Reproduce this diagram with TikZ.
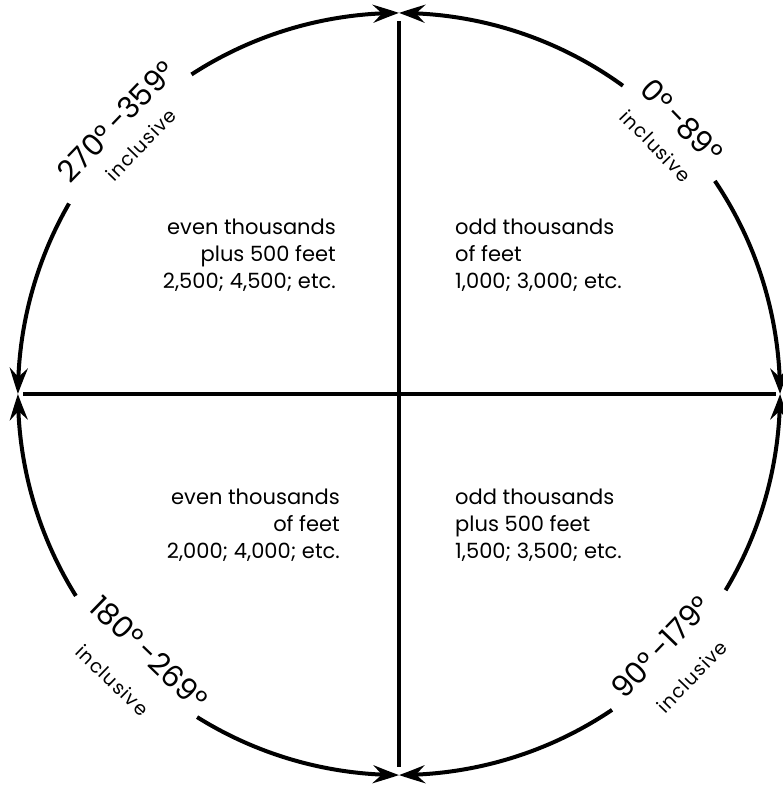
\documentclass[tikz,border=0pt]{standalone}
\usepackage{fontspec}
\setmainfont{Poppins}
\usetikzlibrary{arrows.meta,bending}
\begin{document}
\begin{tikzpicture}[x=1pt,y=1pt,
  rim/.style={line width=4pt},
  axisline/.style={line width=3.5pt},
  tipend/.style={-{Stealth[length=26pt,width=18pt,inset=9pt,bend]}},
  quad/.style={font=\fontsize{21}{27}\selectfont,inner sep=0pt},
  deg/.style={font=\fontsize{30}{32}\selectfont,inner sep=0pt},
  incl/.style={font=\fontsize{19}{20}\selectfont\addfontfeatures{LetterSpace=6},inner sep=0pt}]
\useasboundingbox (0,0) rectangle (783,787);
\def\R{381}
\coordinate (C) at (399,393);
\coordinate (N) at (399,774);
\coordinate (S) at (399,12);
\coordinate (E) at (780,393);
\coordinate (W) at (18,393);
% axes
\draw[axisline,shorten <=8pt,shorten >=8pt] (N) -- (S);
\draw[axisline,shorten <=5pt,shorten >=4pt] (W) -- (E);
% rim arcs
\draw[rim,tipend] ([shift={(54:\R)}]C) arc[start angle=54,end angle=90,radius=\R];
\draw[rim,tipend] ([shift={(34:\R)}]C) arc[start angle=34,end angle=0,radius=\R];
\draw[rim,tipend] ([shift={(123:\R)}]C) arc[start angle=123,end angle=90,radius=\R];
\draw[rim,tipend] ([shift={(150:\R)}]C) arc[start angle=150,end angle=180,radius=\R];
\draw[rim,tipend] ([shift={(212:\R)}]C) arc[start angle=212,end angle=180,radius=\R];
\draw[rim,tipend] ([shift={(238:\R)}]C) arc[start angle=238,end angle=270,radius=\R];
\draw[rim,tipend] ([shift={(304:\R)}]C) arc[start angle=304,end angle=270,radius=\R];
\draw[rim,tipend] ([shift={(329:\R)}]C) arc[start angle=329,end angle=360,radius=\R];
% angle labels
\node[deg,rotate=-46] (d1) at ([shift={(44:393)}]C) {0°\,-89°};
\node[incl,rotate=-46] (i1) at ([shift={(44:357)}]C) {inclusive};
\node[deg,rotate=46] (d2) at ([shift={(136:393)}]C) {270°\,-359°};
\node[incl,rotate=46] (i2) at ([shift={(136:359)}]C) {inclusive};
\node[deg,rotate=-44] (d3) at ([shift={(226:360)}]C) {180°\,-269°};
\node[incl,rotate=-44] (i3) at ([shift={(225:405)}]C) {inclusive};
\node[deg,rotate=46] (d4) at ([shift={(316:364)}]C) {90°\,-179°};
\node[incl,rotate=46] (i4) at ([shift={(316:407)}]C) {inclusive};
% quadrant texts
\node[quad,align=left,anchor=west] (q1) at (455,532) {odd thousands\\of feet\\1,000; 3,000; etc.};
\node[quad,align=right,anchor=east] (q2) at (336,532) {even thousands\\plus 500 feet\\2,500; 4,500; etc.};
\node[quad,align=right,anchor=east] (q3) at (340,262) {even thousands\\of feet\\2,000; 4,000; etc.};
\node[quad,align=left,anchor=west] (q4) at (455,262) {odd thousands\\plus 500 feet\\1,500; 3,500; etc.};
\end{tikzpicture}
\end{document}
